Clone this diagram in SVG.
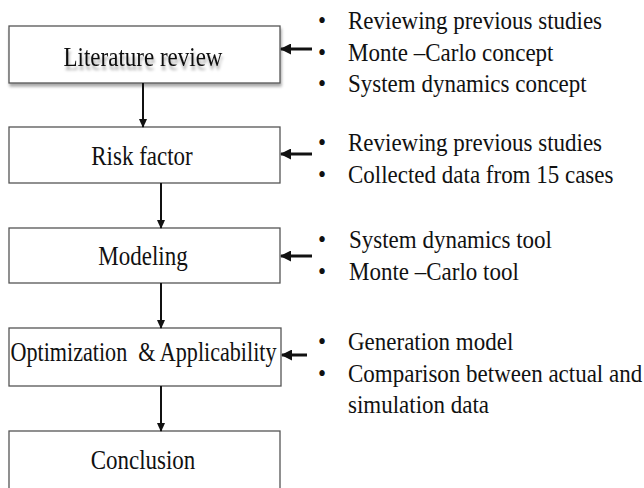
<svg xmlns="http://www.w3.org/2000/svg" width="644" height="488" viewBox="0 0 644 488">
<defs>
<style>
.box{fill:#fff;stroke:#555;stroke-width:1.3}
.lbl{font-family:"Liberation Serif","Times New Roman",serif;font-size:23px;fill:#111;text-anchor:middle}
.txt{font-family:"Liberation Serif","Times New Roman",serif;font-size:23px;fill:#111}
.dn{stroke:#111;stroke-width:2;fill:none;marker-end:url(#hd)}
.lf{stroke:#111;stroke-width:3;fill:none;marker-end:url(#hl)}
</style>
<marker id="hd" markerWidth="9" markerHeight="10" refX="8" refY="4" orient="auto" markerUnits="userSpaceOnUse" viewBox="0 0 9 8">
<path d="M0,0 L9,4 L0,8 Z" fill="#111"/>
</marker>
<marker id="hl" markerWidth="11" markerHeight="11" refX="10" refY="5.5" orient="auto" markerUnits="userSpaceOnUse" viewBox="0 0 11 11">
<path d="M0,0 L11,5.5 L0,11 Z" fill="#111"/>
</marker>
<filter id="sh" x="-10%" y="-20%" width="130%" height="160%">
<feGaussianBlur in="SourceAlpha" stdDeviation="1.5"/>
<feOffset dx="1" dy="3" result="b"/>
<feComponentTransfer><feFuncA type="linear" slope="0.35"/></feComponentTransfer>
<feMerge><feMergeNode/><feMergeNode in="SourceGraphic"/></feMerge>
</filter>
</defs>
<rect width="644" height="488" fill="#fff"/>
<g id="n1">
<rect class="box" x="9" y="26" width="271" height="57" filter="url(#sh)" stroke="#777"/>
<text class="lbl" transform="translate(143,66) scale(1,1.22)" filter="url(#sh)">Literature review</text>
</g>
<g id="n2">
<rect class="box" x="9" y="127" width="271" height="56"/>
<text class="lbl" transform="translate(142,165) scale(1,1.22)" font-size="22">Risk factor</text>
</g>
<g id="n3">
<rect class="box" x="9" y="228" width="271" height="55"/>
<text class="lbl" transform="translate(143,265) scale(1,1.22)">Modeling</text>
</g>
<g id="n4">
<rect class="box" x="9" y="328" width="272" height="58"/>
<text class="lbl" transform="translate(143.5,361) scale(1,1.22)" font-size="22" textLength="266" lengthAdjust="spacingAndGlyphs" xml:space="preserve">Optimization  &amp; Applicability</text>
</g>
<g id="n5">
<rect class="box" x="9" y="431" width="271" height="60"/>
<text class="lbl" transform="translate(143,469) scale(1,1.22)">Conclusion</text>
</g>
<g id="t1" class="txt">
<text transform="translate(318,29) scale(1,1.1)">•</text><text transform="translate(348,29) scale(1,1.1)">Reviewing previous studies</text>
<text transform="translate(318,61) scale(1,1.1)">•</text><text transform="translate(348,61) scale(1,1.1)">Monte –Carlo concept</text>
<text transform="translate(318,92) scale(1,1.1)">•</text><text transform="translate(348,92) scale(1,1.1)">System dynamics concept</text>
</g>
<g id="t2" class="txt">
<text transform="translate(318,151) scale(1,1.1)">•</text><text transform="translate(348,151) scale(1,1.1)">Reviewing previous studies</text>
<text transform="translate(318,183) scale(1,1.1)">•</text><text transform="translate(348,183) scale(1,1.1)">Collected data from 15 cases</text>
</g>
<g id="t3" class="txt">
<text transform="translate(318,248) scale(1,1.1)">•</text><text transform="translate(349,248) scale(1,1.1)">System dynamics tool</text>
<text transform="translate(318,280) scale(1,1.1)">•</text><text transform="translate(349,280) scale(1,1.1)">Monte –Carlo tool</text>
</g>
<g id="t4" class="txt">
<text transform="translate(318,350) scale(1,1.1)">•</text><text transform="translate(348,350) scale(1,1.1)">Generation model</text>
<text transform="translate(318,382) scale(1,1.1)">•</text><text transform="translate(348,382) scale(1,1.1)">Comparison between actual and</text>
<text transform="translate(348,413) scale(1,1.1)">simulation data</text>
</g>
<g id="connectors">
<line class="dn" x1="143" y1="83" x2="143" y2="127"/>
<line class="dn" x1="161" y1="183" x2="161" y2="228"/>
<line class="dn" x1="161" y1="283" x2="161" y2="328"/>
<line class="dn" x1="161" y1="386" x2="161" y2="431"/>
<line class="lf" x1="312" y1="49" x2="281" y2="49"/>
<line class="lf" x1="312" y1="154" x2="281" y2="154"/>
<line class="lf" x1="312" y1="256" x2="281" y2="256"/>
<line class="lf" x1="307" y1="355" x2="282" y2="355"/>
</g>
</svg>
